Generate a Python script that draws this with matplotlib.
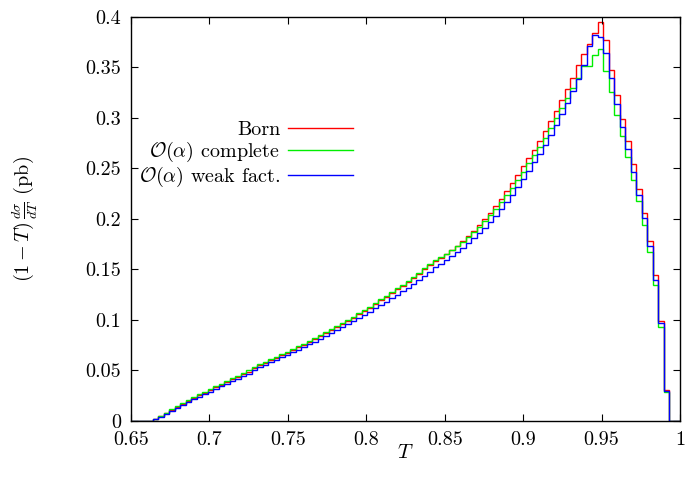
import numpy as np
import matplotlib
matplotlib.use("Agg")
import matplotlib.pyplot as plt
from matplotlib.ticker import FuncFormatter

plt.rcParams['font.family'] = ['cmr10', 'DejaVu Serif']
plt.rcParams['mathtext.fontset'] = 'cm'
plt.rcParams['axes.formatter.use_mathtext'] = True

# histogram: 100 bins on [0.65, 1.0]
t_min, t_max, n_bins = 0.65, 1.0, 100
first_bin = 4  # first non-empty bin

born = [0.002, 0.005, 0.008, 0.011, 0.014, 0.017, 0.020, 0.023, 0.026, 0.028,
        0.031, 0.034, 0.036, 0.039, 0.042, 0.044, 0.047, 0.049, 0.052, 0.055,
        0.057, 0.060, 0.062, 0.065, 0.067, 0.070, 0.073, 0.075, 0.078, 0.081,
        0.084, 0.087, 0.090, 0.093, 0.096, 0.099, 0.102, 0.106, 0.109, 0.112,
        0.116, 0.120, 0.123, 0.127, 0.131, 0.134, 0.138, 0.142, 0.146, 0.150,
        0.154, 0.158, 0.161, 0.165, 0.169, 0.173, 0.178, 0.183, 0.188, 0.194,
        0.200, 0.206, 0.213, 0.220, 0.228, 0.236, 0.244, 0.252, 0.260, 0.268,
        0.277, 0.287, 0.297, 0.307, 0.318, 0.329, 0.340, 0.352, 0.363, 0.373,
        0.384, 0.395, 0.377, 0.348, 0.323, 0.299, 0.277, 0.254, 0.230, 0.206,
        0.178, 0.145, 0.099, 0.031]

complete = [0.002, 0.005, 0.008, 0.012, 0.015, 0.018, 0.021, 0.024, 0.027, 0.029,
            0.032, 0.035, 0.037, 0.040, 0.043, 0.045, 0.048, 0.050, 0.053, 0.056,
            0.058, 0.061, 0.063, 0.066, 0.068, 0.071, 0.074, 0.076, 0.079, 0.082,
            0.085, 0.088, 0.091, 0.094, 0.097, 0.100, 0.103, 0.107, 0.110, 0.113,
            0.117, 0.121, 0.124, 0.128, 0.132, 0.135, 0.139, 0.143, 0.147, 0.151,
            0.155, 0.159, 0.162, 0.165, 0.169, 0.173, 0.177, 0.182, 0.187, 0.192,
            0.198, 0.204, 0.210, 0.217, 0.224, 0.231, 0.239, 0.247, 0.255, 0.263,
            0.271, 0.280, 0.290, 0.300, 0.310, 0.320, 0.330, 0.340, 0.351, 0.351,
            0.362, 0.368, 0.347, 0.326, 0.303, 0.282, 0.261, 0.239, 0.218, 0.194,
            0.167, 0.135, 0.093, 0.029]

weak = [0.002, 0.004, 0.007, 0.010, 0.013, 0.016, 0.019, 0.022, 0.024, 0.027,
        0.029, 0.032, 0.035, 0.037, 0.040, 0.042, 0.045, 0.047, 0.050, 0.053,
        0.055, 0.058, 0.060, 0.063, 0.065, 0.068, 0.070, 0.073, 0.076, 0.078,
        0.081, 0.084, 0.087, 0.090, 0.093, 0.096, 0.099, 0.102, 0.105, 0.108,
        0.112, 0.115, 0.118, 0.122, 0.125, 0.129, 0.132, 0.136, 0.140, 0.144,
        0.148, 0.152, 0.155, 0.159, 0.163, 0.167, 0.171, 0.176, 0.181, 0.186,
        0.191, 0.197, 0.203, 0.210, 0.217, 0.224, 0.232, 0.240, 0.248, 0.256,
        0.264, 0.273, 0.283, 0.293, 0.304, 0.315, 0.327, 0.339, 0.352, 0.371,
        0.382, 0.380, 0.364, 0.340, 0.314, 0.291, 0.269, 0.247, 0.224, 0.201,
        0.173, 0.140, 0.097, 0.030]

labels = ['Born', r'$\mathcal{O}(\alpha)$ complete', r'$\mathcal{O}(\alpha)$ weak fact.']
colors = ['#ff0000', '#00ee00', '#0000ff']
x_ticks = [0.65, 0.7, 0.75, 0.8, 0.85, 0.9, 0.95, 1.0]
y_ticks = [0, 0.05, 0.1, 0.15, 0.2, 0.25, 0.3, 0.35, 0.4]

edges = np.linspace(t_min, t_max, n_bins + 1)

def full(vals):
    arr = np.zeros(n_bins)
    arr[first_bin:first_bin + len(vals)] = vals
    return arr

fig = plt.figure(figsize=(6.87, 4.88), dpi=100)
ax = fig.add_axes([0.1907, 0.1373, 0.7991, 0.8279])

for vals, lab, col in zip([born, complete, weak], labels, colors):
    ax.stairs(full(vals), edges, color=col, linewidth=1.0, label=lab, baseline=None)

ax.set_xlim(t_min, t_max)
ax.set_ylim(0, 0.4)
ax.set_xticks(x_ticks)
ax.set_yticks(y_ticks)
fmt = FuncFormatter(lambda v, p: '%g' % v)
ax.xaxis.set_major_formatter(fmt)
ax.yaxis.set_major_formatter(fmt)
ax.tick_params(direction='in', top=True, right=True, length=5, width=0.8,
               labelsize=14.5, pad=7)
for s in ax.spines.values():
    s.set_linewidth(1.0)

ax.set_xlabel(r'$T$', fontsize=15, labelpad=-3)
ax.set_ylabel(r'$(1-T)\,\frac{d\sigma}{dT}$ (pb)', fontsize=14.5, labelpad=33)

leg = ax.legend(loc='upper right', bbox_to_anchor=(0.422, 0.768), frameon=False,
                markerfirst=False, fontsize=14.5, handlelength=3.2,
                handletextpad=0.4, labelspacing=0.05, borderpad=0)

fig.savefig('out.png', dpi=100)
